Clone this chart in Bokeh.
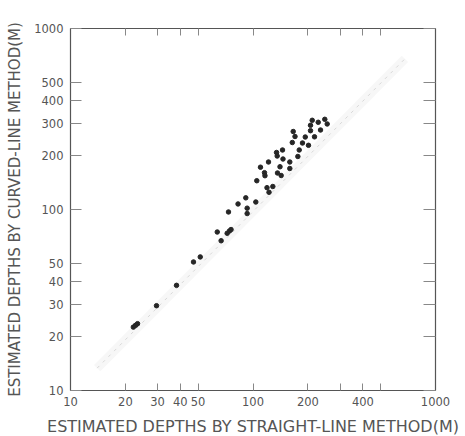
from bokeh.plotting import figure
from bokeh.models import Range1d, FixedTicker, LogAxis, ColumnDataSource
from bokeh.embed import file_html
from bokeh.resources import INLINE

# Estimated depths (m): straight-line method (x) vs curved-line method (y)
straight_depth = [22.1, 22.7, 23.3, 29.6, 38.1, 47.2, 51.4, 63.7, 66.9, 72.2,
                  74.3, 75.8, 73.4, 82.8, 91.3, 92.9, 92.9, 103.6, 104.9, 109.9,
                  115.6, 116.3, 119.3, 122.4, 128.4, 121.6, 136.2, 142.7, 140.6, 134.6,
                  135.7, 145.1, 146.0, 159.1, 159.1, 166.1, 169.9, 164.2, 176.1, 179.2,
                  186.7, 193.4, 201.4, 206.6, 206.6, 217.3, 211.1, 227.7, 234.4, 247.4,
                  255.0]
curved_depth = [22.4, 22.9, 23.4, 29.4, 38.1, 51.3, 54.7, 75.1, 67.2, 73.9,
                76.1, 77.5, 96.9, 107.3, 116.0, 101.7, 95.0, 110.0, 144.2, 171.3,
                159.7, 153.7, 132.0, 124.5, 134.0, 183.0, 159.1, 154.1, 172.2, 206.5,
                197.5, 213.2, 190.1, 183.0, 168.5, 269.7, 253.1, 234.5, 196.3, 213.2,
                233.0, 251.5, 226.3, 272.5, 291.9, 252.1, 311.1, 303.3, 274.9, 315.0,
                296.8]

# faint reference line (1:1-ish)
ref_x = [14, 680]
ref_y = [13.3, 680]

x_ticks = [10, 20, 30, 40, 50, 100, 200, 300, 400, 500, 1000]
x_tick_labels = ["10", "20", "30", "40", "50", "100", "200", "", "400", "", "1000"]
y_ticks = [10, 20, 30, 40, 50, 100, 200, 300, 400, 500, 1000]
y_tick_labels = ["10", "20", "30", "40", "50", "100", "200", "300", "400", "500", "1000"]

FONT = "DejaVu Sans"
TXT = "#555555"
AX = "#555555"

p = figure(frame_width=365, frame_height=362, x_axis_type="log", y_axis_type="log",
           x_range=Range1d(10, 1000), y_range=Range1d(10, 1000),
           output_backend="svg", toolbar_location=None,
           min_border_left=70, min_border_right=30, min_border_top=28, min_border_bottom=46)
p.grid.visible = False
p.outline_line_color = None
p.background_fill_color = "white"
p.border_fill_color = "white"

def style_axis(ax, ticks, labels, tick_len, show_labels):
    ax.ticker = FixedTicker(ticks=ticks, minor_ticks=[])
    ax.major_label_overrides = {t: l for t, l in zip(ticks, labels)} if show_labels else {t: "" for t in ticks}
    ax.major_tick_in = tick_len
    ax.major_tick_out = 0
    ax.minor_tick_line_color = None
    ax.axis_line_color = AX
    ax.axis_line_width = 1.2
    ax.major_tick_line_color = "#888888"
    ax.major_tick_line_width = 1
    ax.major_label_text_font = FONT
    ax.major_label_text_font_size = "11.5px"
    ax.major_label_text_color = TXT
    ax.axis_label_text_font = FONT
    ax.axis_label_text_font_style = "normal"
    ax.axis_label_text_color = TXT

xa = p.xaxis[0]
style_axis(xa, x_ticks, x_tick_labels, 7, True)
xa.major_label_standoff = 6
xa.axis_label = "ESTIMATED DEPTHS BY STRAIGHT-LINE METHOD(M)"
xa.axis_label_text_font_size = "16px"
xa.axis_label_standoff = 8

ya = p.yaxis[0]
style_axis(ya, y_ticks, y_tick_labels, 11, True)
ya.major_label_standoff = 7
ya.axis_label = "ESTIMATED DEPTHS BY CURVED-LINE METHOD(M)"
ya.axis_label_text_font_size = "15px"
ya.axis_label_standoff = 7

top = LogAxis()
style_axis(top, x_ticks, x_tick_labels, 7, False)
top.major_label_text_font_size = "1px"
top.major_label_standoff = 0
p.add_layout(top, "above")

right = LogAxis()
style_axis(right, y_ticks, y_tick_labels, 12, False)
right.major_label_text_font_size = "1px"
right.major_label_standoff = 0
p.add_layout(right, "right")

# very faint blurred band + dashed line
p.line(ref_x, ref_y, line_color="#f3f3f3", line_width=9, line_alpha=0.7)
p.line(ref_x, ref_y, line_color="#d8d8d8", line_width=1, line_dash="3 5")

src = ColumnDataSource(dict(x=straight_depth, y=curved_depth))
p.scatter("x", "y", source=src, size=4.5, fill_color="#262626", line_color="#262626")

open("out.html", "w").write(file_html(p, INLINE))
